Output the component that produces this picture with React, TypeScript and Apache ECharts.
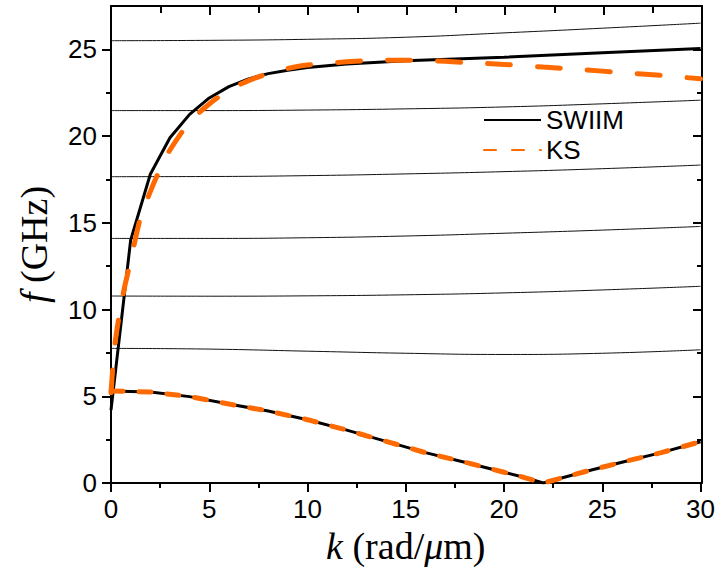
import React, { useEffect, useRef } from "react";
import * as echarts from "echarts";

// ---- data ----
const modeK = [0, 5, 10, 15, 20, 25, 30];
const mode1 = [25.5, 25.52, 25.58, 25.7, 25.95, 26.22, 26.51];
const mode2 = [21.47, 21.47, 21.5, 21.57, 21.68, 21.86, 22.07];
const mode3 = [17.66, 17.67, 17.72, 17.82, 17.95, 18.12, 18.33];
const mode4 = [14.1, 14.1, 14.14, 14.24, 14.4, 14.58, 14.79];
const mode5 = [10.78, 10.77, 10.79, 10.85, 10.96, 11.13, 11.34];
const mode6 = [7.76, 7.72, 7.6, 7.48, 7.41, 7.48, 7.68];

const swiimK = [0, 1, 2, 3, 4, 5, 6, 7, 8, 9, 10, 12, 15, 20, 25, 30];
const swiimUpper = [4.2, 14.0, 17.8, 19.9, 21.25, 22.2, 22.85, 23.3, 23.6, 23.8, 23.95, 24.15, 24.35, 24.55, 24.8, 25.05];

const ksUpperK = [0, 0.2, 0.6, 1, 1.5, 2, 2.5, 3, 4, 5, 6, 7, 8, 9, 10, 12, 14, 16, 18, 20, 22, 24, 26, 28, 30];
const ksUpper = [5.2, 8.0, 10.8, 12.8, 15.3, 16.8, 18.1, 19.2, 20.8, 21.85, 22.65, 23.2, 23.6, 23.9, 24.1, 24.28, 24.37, 24.36, 24.24, 24.13, 23.98, 23.83, 23.66, 23.5, 23.3];

const lowerK = [0, 2, 4, 6, 8, 10, 12, 14, 16, 18, 20, 21, 22, 24, 26, 28, 30];
const lowerF = [5.3, 5.25, 4.98, 4.55, 4.15, 3.65, 3.05, 2.4, 1.75, 1.2, 0.62, 0.33, 0.0, 0.62, 1.2, 1.75, 2.38];

const yMajor = [0, 5, 10, 15, 20, 25];
const yMinor = [2.5, 7.5, 12.5, 17.5, 22.5];

const pairs = (xs: number[], ys: number[]) => xs.map((x, i) => [x, ys[i]]);

const ORANGE = "#FF6A00";
const SANS = "Liberation Sans";
const SERIF = "Liberation Serif";

export default function App() {
  const ref = useRef<HTMLDivElement>(null);
  useEffect(() => {
    if (!ref.current) return;
    const chart = echarts.init(ref.current, null, { renderer: "svg" });
    const grid = { left: 111, right: 16, top: 6, bottom: 92 };
    const axisLine = { show: true, onZero: false, lineStyle: { color: "#000", width: 2 } };
    const noLine = { show: false, onZero: false };
    const tickStyle = { color: "#000", width: 2 };
    const titleStyle = {
      fontFamily: SERIF,
      fontSize: 38,
      color: "#000",
      rich: { i: { fontFamily: SERIF, fontSize: 38, fontStyle: "italic", color: "#000" } },
    };
    const thin = (name: string, ys: number[]) => ({
      name,
      type: "line",
      data: pairs(modeK, ys),
      smooth: true,
      showSymbol: false,
      symbol: "none",
      lineStyle: { color: "#111", width: 1 },
      silent: true,
    });
    chart.setOption({
      animation: false,
      grid: [grid, grid, grid],
      legend: {
        data: ["SWIIM", "KS"],
        orient: "vertical",
        left: 483,
        top: 107,
        padding: 0,
        itemWidth: 57,
        itemHeight: 14,
        itemGap: 4,
        selectedMode: false,
        itemStyle: { opacity: 0 },
        textStyle: { fontFamily: SANS, fontSize: 26, color: "#000", lineHeight: 26 },
      },
      xAxis: [
        {
          gridIndex: 0,
          type: "value",
          position: "bottom",
          min: 0,
          max: 30,
          interval: 5,
          axisLine,
          axisTick: { show: true, length: 9, lineStyle: tickStyle },
          minorTick: { show: true, splitNumber: 2, length: 5, lineStyle: tickStyle },
          splitLine: { show: false },
          axisLabel: { fontFamily: SANS, fontSize: 26, color: "#000", margin: 13 },
          name: "{i|k} (rad/{i|μ}m)",
          nameLocation: "middle",
          nameGap: 43,
          nameTextStyle: titleStyle,
        },
        {
          gridIndex: 1,
          type: "value",
          position: "top",
          min: 0,
          max: 30,
          interval: 5,
          axisLine,
          axisTick: { show: true, inside: true, length: 9, lineStyle: tickStyle },
          minorTick: { show: true, splitNumber: 2, length: 7, lineStyle: tickStyle },
          splitLine: { show: false },
          axisLabel: { show: false },
        },
        {
          gridIndex: 2,
          type: "value",
          show: false,
          min: 0,
          max: 30,
          interval: 5,
          axisLine: noLine,
        },
      ],
      yAxis: [
        {
          gridIndex: 0,
          type: "value",
          position: "left",
          min: 0,
          max: 27.5,
          interval: 2.5,
          axisLine,
          axisTick: { show: true, length: 9, customValues: yMajor, lineStyle: tickStyle },
          splitLine: { show: false },
          axisLabel: { fontFamily: SANS, fontSize: 26, color: "#000", margin: 14, customValues: yMajor },
          name: "{i|f} (GHz)",
          nameLocation: "middle",
          nameGap: 58,
          nameTextStyle: titleStyle,
        },
        {
          gridIndex: 1,
          type: "value",
          position: "right",
          min: 0,
          max: 27.5,
          interval: 2.5,
          axisLine,
          axisTick: { show: true, inside: true, length: 9, customValues: yMajor, lineStyle: tickStyle },
          splitLine: { show: false },
          axisLabel: { show: false },
        },
        {
          gridIndex: 2,
          type: "value",
          position: "left",
          min: 0,
          max: 27.5,
          interval: 2.5,
          axisLine: noLine,
          axisTick: { show: true, length: 5, customValues: yMinor, lineStyle: tickStyle },
          splitLine: { show: false },
          axisLabel: { show: false },
        },
        {
          gridIndex: 2,
          type: "value",
          position: "right",
          min: 0,
          max: 27.5,
          interval: 2.5,
          axisLine: noLine,
          axisTick: { show: true, inside: true, length: 5, customValues: yMinor, lineStyle: tickStyle },
          splitLine: { show: false },
          axisLabel: { show: false },
        },
      ],
      series: [
        thin("m1", mode1),
        thin("m2", mode2),
        thin("m3", mode3),
        thin("m4", mode4),
        thin("m5", mode5),
        thin("m6", mode6),
        {
          name: "SWIIM",
          type: "line",
          data: pairs(swiimK, swiimUpper),
          showSymbol: false,
          symbol: "none",
          lineStyle: { color: "#000", width: 3 },
          itemStyle: { color: "#000" },
        },
        {
          name: "SWIIM",
          type: "line",
          data: pairs(lowerK, lowerF),
          showSymbol: false,
          symbol: "none",
          lineStyle: { color: "#000", width: 3 },
          itemStyle: { color: "#000" },
        },
        {
          name: "KS",
          type: "line",
          data: pairs(lowerK, lowerF),
          showSymbol: false,
          symbol: "none",
          lineStyle: { color: ORANGE, width: 5, type: [12, 16], cap: "round" },
          itemStyle: { color: ORANGE },
        },
        {
          name: "KS",
          type: "line",
          data: pairs(ksUpperK, ksUpper),
          smooth: 0.3,
          showSymbol: false,
          symbol: "none",
          lineStyle: { color: ORANGE, width: 5, type: [23, 27], cap: "round" },
          itemStyle: { color: ORANGE },
        },
      ],
    });
    return () => chart.dispose();
  }, []);
  return (
    <div
      ref={ref}
      style={{ position: "absolute", left: 0, top: 0, width: 718, height: 575, background: "#fff" }}
    />
  );
}
